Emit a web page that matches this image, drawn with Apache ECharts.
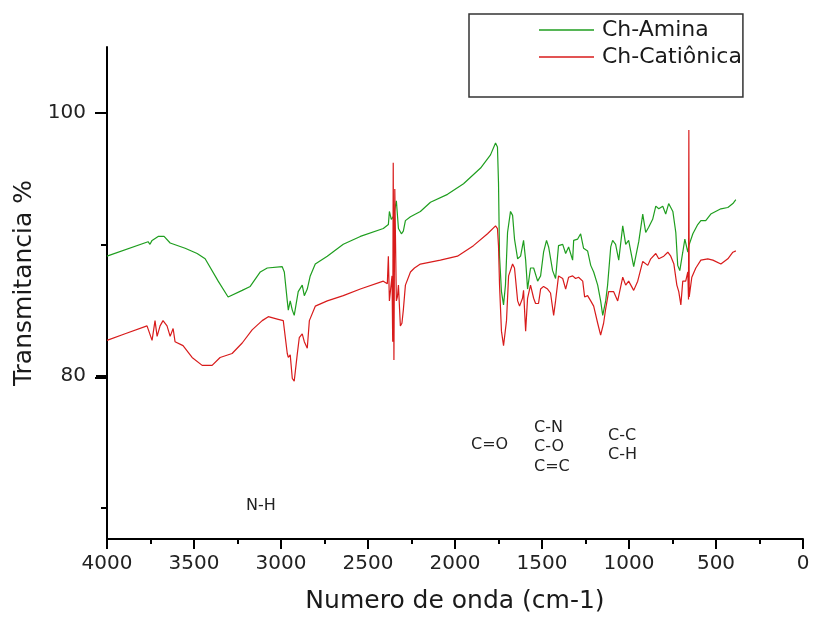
<!DOCTYPE html>
<html>
<head>
<meta charset="utf-8">
<script src="https://cdn.jsdelivr.net/npm/echarts@6/dist/echarts.min.js"></script>
<style>
  html, body { margin: 0; padding: 0; background: #fff; }
  #chart { width: 813px; height: 619px; }
</style>
</head>
<body>
<div id="chart"></div>
<script>
// [wavenumber cm-1, transmittance %]
const chAmina = [
  [4000, 89.1], [3764, 90.2], [3753, 90.0], [3741, 90.3], [3706, 90.6], [3672, 90.6],
  [3637, 90.1], [3551, 89.7], [3482, 89.3], [3436, 88.9], [3361, 87.2], [3304, 86.0],
  [3223, 86.5], [3177, 86.8], [3119, 87.9], [3079, 88.2], [2993, 88.3], [2981, 87.9],
  [2964, 85.7], [2958, 85.0], [2947, 85.7], [2935, 85.0], [2924, 84.6], [2901, 86.4],
  [2878, 86.9], [2866, 86.1], [2849, 86.6], [2832, 87.6], [2803, 88.5], [2734, 89.1],
  [2642, 90.0], [2544, 90.6], [2412, 91.2], [2383, 91.5], [2377, 92.5], [2366, 91.9],
  [2354, 92.1], [2337, 93.3], [2331, 93.2], [2325, 91.2], [2308, 90.8], [2297, 91.0],
  [2285, 91.8], [2256, 92.1], [2199, 92.5], [2141, 93.2], [2043, 93.8], [1951, 94.6],
  [1853, 95.8], [1796, 96.8], [1767, 97.7], [1756, 97.4], [1750, 94.7], [1744, 89.1],
  [1733, 86.4], [1721, 85.4], [1710, 86.9], [1698, 90.9], [1681, 92.5], [1669, 92.2],
  [1658, 90.4], [1640, 88.9], [1623, 89.1], [1606, 90.3], [1594, 88.8], [1583, 86.6],
  [1566, 88.2], [1548, 88.2], [1525, 87.2], [1508, 87.6], [1491, 89.4], [1474, 90.3],
  [1462, 89.8], [1439, 88.0], [1422, 87.4], [1405, 89.9], [1381, 90.0], [1364, 89.3],
  [1347, 89.8], [1324, 88.8], [1318, 90.3], [1295, 90.4], [1278, 90.8], [1261, 89.7],
  [1238, 89.5], [1220, 88.4], [1203, 87.9], [1180, 86.9], [1163, 85.7], [1151, 84.6],
  [1134, 85.7], [1123, 86.9], [1105, 89.8], [1094, 90.3], [1077, 90.0], [1059, 88.8],
  [1036, 91.4], [1019, 90.0], [1002, 90.3], [973, 88.3], [944, 90.2], [921, 92.3],
  [904, 90.9], [887, 91.3], [864, 91.9], [846, 92.9], [829, 92.7], [806, 92.9],
  [789, 92.3], [772, 93.1], [748, 92.5], [731, 90.9], [720, 88.4], [708, 88.0],
  [691, 89.4], [679, 90.4], [662, 89.4], [656, 89.9], [633, 90.8], [605, 91.5],
  [587, 91.8], [559, 91.8], [530, 92.3], [472, 92.7], [432, 92.8], [403, 93.1], [386, 93.4]
];

const chCationica = [
  [4000, 82.7], [3896, 83.2], [3770, 83.8], [3741, 82.7], [3724, 84.2], [3712, 83.0],
  [3695, 83.8], [3678, 84.2], [3655, 83.8], [3637, 83.0], [3620, 83.6], [3609, 82.6],
  [3563, 82.3], [3511, 81.4], [3453, 80.8], [3396, 80.8], [3350, 81.4], [3281, 81.7],
  [3223, 82.5], [3166, 83.5], [3108, 84.2], [3073, 84.5], [3016, 84.3], [2987, 84.2],
  [2964, 81.7], [2958, 81.4], [2947, 81.6], [2935, 79.8], [2924, 79.6], [2907, 81.6],
  [2895, 82.9], [2878, 83.2], [2866, 82.6], [2849, 82.1], [2837, 84.2], [2803, 85.3],
  [2734, 85.7], [2642, 86.1], [2544, 86.6], [2412, 87.2], [2389, 87.0], [2383, 89.1],
  [2377, 85.7], [2362, 87.6], [2358, 82.6], [2355, 96.2], [2351, 81.2], [2346, 94.2],
  [2337, 85.7], [2331, 86.0], [2325, 86.9], [2314, 83.8], [2305, 84.0], [2297, 85.0],
  [2285, 86.9], [2256, 87.9], [2233, 88.2], [2199, 88.5], [2084, 88.8], [1986, 89.1],
  [1894, 89.9], [1813, 90.8], [1767, 91.4], [1756, 91.2], [1750, 89.9], [1744, 86.9],
  [1733, 83.4], [1721, 82.3], [1704, 84.2], [1692, 87.6], [1669, 88.5], [1658, 88.2],
  [1640, 85.7], [1629, 85.3], [1612, 85.9], [1606, 86.5], [1594, 83.4], [1583, 85.9],
  [1566, 86.9], [1548, 85.9], [1537, 85.5], [1520, 85.5], [1508, 86.6], [1491, 86.8],
  [1468, 86.6], [1451, 86.3], [1433, 84.6], [1422, 85.7], [1405, 87.6], [1381, 87.4],
  [1364, 86.6], [1347, 87.5], [1324, 87.6], [1307, 87.4], [1290, 87.5], [1266, 87.2],
  [1255, 86.0], [1238, 86.1], [1220, 85.7], [1203, 85.3], [1180, 84.0], [1163, 83.1],
  [1146, 84.0], [1134, 85.1], [1117, 86.4], [1088, 86.4], [1065, 85.7], [1036, 87.5],
  [1019, 86.9], [1002, 87.2], [973, 86.5], [950, 87.2], [921, 88.7], [892, 88.4],
  [875, 88.9], [846, 89.3], [829, 88.9], [800, 89.1], [777, 89.4], [760, 89.1],
  [742, 88.5], [725, 86.9], [714, 86.4], [702, 85.4], [691, 87.2], [674, 87.2],
  [662, 87.9], [658, 85.8], [656, 98.7], [654, 86.0], [639, 87.5], [616, 88.2],
  [587, 88.8], [547, 88.9], [518, 88.8], [472, 88.5], [432, 88.9], [403, 89.4], [386, 89.5]
];

const seriesNames = ['Ch-Amina', 'Ch-Catiônica'];
const seriesColors = ['#1f9e1f', '#d81b1b'];
const yMajorTicks = [80, 100];
const yMinorTicks = [70, 90];
const yMin = 67.6;
const yMax = 105;

// band annotations: [text, left px, top px]
const bandLabels = [
  ['N-H', 246, 498],
  ['C=O', 471, 437],
  ['C-N', 534, 420],
  ['C-O', 534, 439],
  ['C=C', 534, 459],
  ['C-C', 608, 428],
  ['C-H', 608, 447]
];

const FONT = 'DejaVu Sans';
const GRID = { left: 107, right: 10, top: 47, bottom: 77 };
const chart = echarts.init(document.getElementById('chart'));

// y axes that only carry tick marks
const tickAxis = (values, len) => ({
  type: 'value',
  min: yMin,
  max: yMax,
  position: 'left',
  axisLine: { show: false, onZero: false },
  axisTick: { show: true, customValues: values, length: len, lineStyle: { color: '#000', width: 2 } },
  axisLabel: { show: false },
  splitLine: { show: false }
});

// long major ticks, placed from the grid box (axis decoration only)
const plotH = 619 - GRID.top - GRID.bottom;
const majorTickEls = yMajorTicks.map((v) => {
  const y = GRID.top + (yMax - v) / (yMax - yMin) * plotH;
  return {
    type: 'rect',
    left: GRID.left - 12,
    top: Math.round(y) - 1,
    z: 100,
    shape: { width: 12, height: 2 },
    style: { fill: '#000' }
  };
});

const labelEls = bandLabels.map(([t, x, y]) => ({
  type: 'text',
  left: x,
  top: y,
  style: { text: t, fontFamily: FONT, fontSize: 16, fill: '#222' }
}));

chart.setOption({
  animation: false,
  textStyle: { fontFamily: FONT },
  grid: GRID,
  legend: {
    left: 469,
    top: 14,
    orient: 'vertical',
    padding: [5, 1, 29, 70],
    borderColor: '#333',
    borderWidth: 1.5,
    icon: 'rect',
    itemWidth: 55,
    itemHeight: 1.3,
    itemGap: 5,
    textStyle: { fontFamily: FONT, fontSize: 22, lineHeight: 22, color: '#1a1a1a', padding: [0, 0, 0, 3] },
    data: seriesNames
  },
  xAxis: {
    type: 'value',
    inverse: true,
    min: 0,
    max: 4000,
    interval: 500,
    name: 'Numero de onda (cm-1)',
    nameLocation: 'middle',
    nameGap: 50,
    nameTextStyle: { fontFamily: FONT, fontSize: 25, color: '#1a1a1a' },
    axisLine: { onZero: false, lineStyle: { color: '#000', width: 2 } },
    axisTick: { length: 10, lineStyle: { color: '#000', width: 2 } },
    minorTick: { show: true, splitNumber: 2, length: 5, lineStyle: { color: '#000', width: 2 } },
    axisLabel: { fontFamily: FONT, fontSize: 20, color: '#222', margin: 15, formatter: (v) => String(v) },
    splitLine: { show: false }
  },
  yAxis: [
    {
      type: 'value',
      min: yMin,
      max: yMax,
      name: 'Transmitancia %',
      nameLocation: 'middle',
      nameGap: 70,
      nameTextStyle: { fontFamily: FONT, fontSize: 25, color: '#1a1a1a', padding: [0, 0, 0, 20] },
      axisLine: { show: true, onZero: false, lineStyle: { color: '#000', width: 2 } },
      axisTick: { show: false },
      axisLabel: { customValues: yMajorTicks, fontFamily: FONT, fontSize: 20, color: '#222', margin: 21 },
      splitLine: { show: false }
    },
    tickAxis(yMinorTicks, 6),
    tickAxis(yMajorTicks.map((v) => v + 0.001), 11)
  ],
  graphic: labelEls.concat(majorTickEls),
  series: [
    {
      name: seriesNames[0],
      type: 'line',
      data: chAmina,
      symbol: 'none',
      color: seriesColors[0],
      lineStyle: { width: 1.2, color: seriesColors[0] }
    },
    {
      name: seriesNames[1],
      type: 'line',
      data: chCationica,
      symbol: 'none',
      color: seriesColors[1],
      lineStyle: { width: 1.2, color: seriesColors[1] }
    }
  ]
});
</script>
</body>
</html>
